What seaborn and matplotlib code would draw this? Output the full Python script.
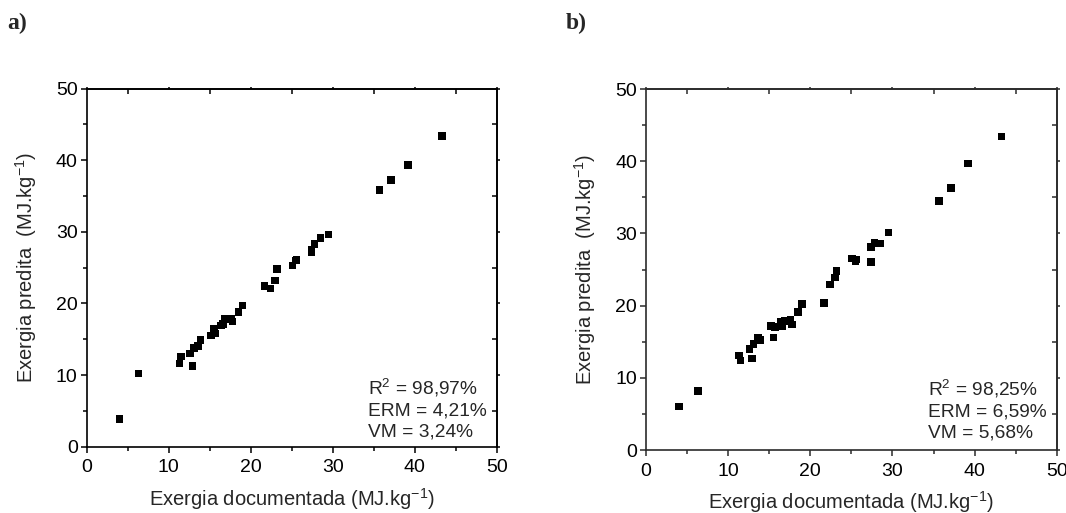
import numpy as np
import pandas as pd
import matplotlib
matplotlib.use("Agg")
import matplotlib.pyplot as plt
from matplotlib.ticker import MultipleLocator
import seaborn as sns

# Documented exergy (MJ/kg) and the two model predictions
exergia_documentada = [4.0, 6.3, 11.3, 11.5, 12.6, 12.9, 13.1, 13.6, 13.9,
                       15.2, 15.5, 15.7, 16.4, 16.6, 16.9, 17.6, 17.8, 18.5, 19.0,
                       21.7, 22.4, 23.0, 23.2, 25.1, 25.5, 25.6,
                       27.4, 27.4, 27.8, 28.5, 29.5, 35.7, 37.1, 39.2, 43.3]
predita_a = [3.9, 10.2, 11.6, 12.6, 13.0, 11.3, 13.8, 14.1, 14.9,
             15.5, 16.4, 15.8, 16.9, 17.1, 17.8, 17.8, 17.5, 18.8, 19.7,
             22.4, 22.1, 23.2, 24.8, 25.3, 26.0, 26.1,
             27.1, 27.5, 28.3, 29.1, 29.6, 35.8, 37.2, 39.3, 43.4]
predita_b = [6.0, 8.2, 13.1, 12.4, 14.0, 12.7, 14.7, 15.5, 15.2,
             17.2, 15.6, 17.0, 17.7, 17.2, 17.9, 18.1, 17.4, 19.1, 20.2,
             20.4, 22.9, 23.9, 24.8, 26.5, 26.1, 26.4,
             26.0, 28.1, 28.7, 28.6, 30.1, 34.5, 36.3, 39.7, 43.4]

panel_labels = ["a)", "b)"]
stats_text = ["R$^2$ = 98,97%\nERM = 4,21%\nVM = 3,24%",
              "R$^2$ = 98,25%\nERM = 6,59%\nVM = 5,68%"]
xlabel = "Exergia documentada (MJ.kg$^{-1}$)"
ylabel = "Exergia predita  (MJ.kg$^{-1}$)"

sns.set_theme(style="ticks")
plt.rcParams["font.family"] = ["Liberation Sans", "DejaVu Sans"]
plt.rcParams["mathtext.fontset"] = "custom"
plt.rcParams["mathtext.rm"] = "Liberation Sans"
plt.rcParams["mathtext.it"] = "Liberation Sans:italic"

fig = plt.figure(figsize=(10.66, 5.13), dpi=100)
axes_rects = [[0.0813, 0.1292, 0.3846, 0.6982],
              [0.6060, 0.1228, 0.3853, 0.7037]]
label_pos = [(0.007, 0.975), (0.531, 0.975)]
stats_y = [0.85, 1.2]
spine_colors = ["black", "#2b2b2b"]

for i, pred in enumerate([predita_a, predita_b]):
    df = pd.DataFrame({"doc": exergia_documentada, "pred": pred})
    ax = fig.add_axes(axes_rects[i])
    sns.scatterplot(data=df, x="doc", y="pred", marker="s", s=30,
                    color="black", edgecolor="none", ax=ax)
    ax.set_xlim(0, 50)
    ax.set_ylim(0, 50)
    ax.xaxis.set_major_locator(MultipleLocator(10))
    ax.xaxis.set_minor_locator(MultipleLocator(5))
    ax.yaxis.set_major_locator(MultipleLocator(10))
    ax.yaxis.set_minor_locator(MultipleLocator(5))
    for sp in ax.spines.values():
        sp.set_linewidth(1.2)
        sp.set_color(spine_colors[i])
    ax.tick_params(which="major", direction="out", length=4.5, width=1.1,
                   labelsize=14, colors=spine_colors[i], labelcolor="black", pad=2)
    ax.tick_params(axis="x", which="major", pad=4.5)
    ax.tick_params(which="minor", direction="out", length=2.8, width=1.1,
                   colors=spine_colors[i])

    # mirrored top/right axes: minor ticks inward, major ticks short outward
    top = ax.secondary_xaxis("top")
    right = ax.secondary_yaxis("right")
    for sec in (top, right):
        axis = sec.xaxis if sec is top else sec.yaxis
        axis.set_major_locator(MultipleLocator(10))
        axis.set_minor_locator(MultipleLocator(5))
        sec.tick_params(which="major", direction="out", length=1.8, width=1.1,
                        colors=spine_colors[i], labelsize=0)
        sec.tick_params(which="minor", direction="in", length=3.6, width=1.1,
                        colors=spine_colors[i])
        axis.set_ticklabels([])
        for sp in sec.spines.values():
            sp.set_linewidth(1.2)
            sp.set_color(spine_colors[i])

    ax.set_xlabel(xlabel, fontsize=14.5, labelpad=7)
    ax.set_ylabel(ylabel, fontsize=14.5, labelpad=12)
    ax.text(34.3, stats_y[i], stats_text[i], fontsize=13.8, ha="left",
            va="bottom", linespacing=1.3)
    fig.text(*label_pos[i], panel_labels[i], fontsize=17, fontweight="bold",
             family="Liberation Serif", ha="left", va="top")

fig.savefig("out.png", dpi=100)
